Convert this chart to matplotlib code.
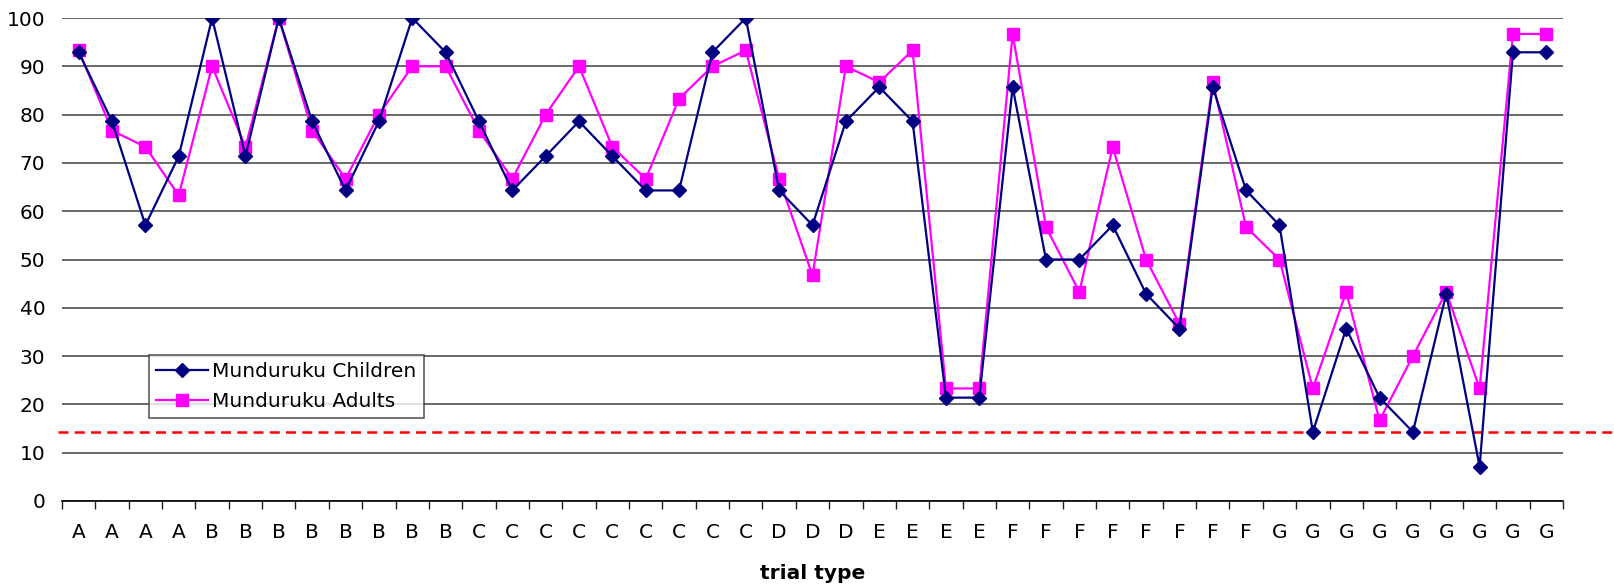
import matplotlib
matplotlib.use("Agg")
import matplotlib.pyplot as plt
from matplotlib.lines import Line2D

# Trial types along the x axis
categories = (["A"] * 4 + ["B"] * 8 + ["C"] * 9 + ["D"] * 3 + ["E"] * 4
              + ["F"] * 8 + ["G"] * 9)

# Percent correct per trial
children = [92.9, 78.6, 57.1, 71.4, 100, 71.4, 100, 78.6, 64.3, 78.6, 100, 92.9,
            78.6, 64.3, 71.4, 78.6, 71.4, 64.3, 64.3, 92.9, 100,
            64.3, 57.1, 78.6,
            85.7, 78.6, 21.4, 21.4,
            85.7, 50.0, 50.0, 57.1, 42.9, 35.7, 85.7, 64.3,
            57.1, 14.3, 35.7, 21.4, 14.3, 42.9, 7.1, 92.9, 92.9]
adults = [93.3, 76.7, 73.3, 63.3, 90.0, 73.3, 100, 76.7, 66.7, 80.0, 90.0, 90.0,
          76.7, 66.7, 80.0, 90.0, 73.3, 66.7, 83.3, 90.0, 93.3,
          66.7, 46.7, 90.0,
          86.7, 93.3, 23.3, 23.3,
          96.7, 56.7, 43.3, 73.3, 50.0, 36.7, 86.7, 56.7,
          50.0, 23.3, 43.3, 16.7, 30.0, 43.3, 23.3, 96.7, 96.7]
chance_level = 14.3
y_ticks = [0, 10, 20, 30, 40, 50, 60, 70, 80, 90, 100]

plt.rcParams["font.family"] = ["DejaVu Sans"]

fig = plt.figure(figsize=(16.15, 5.85), dpi=100)
ax = fig.add_axes([62 / 1615, 1 - 501 / 585, (1563 - 62) / 1615, (501 - 18) / 585])

n = len(categories)
x = [i + 0.5 for i in range(n)]

ax.plot(x, children, color="#000080", lw=1.6, marker="D", ms=6.8,
        label="Munduruku Children", zorder=4)
ax.plot(x, adults, color="#FF00FF", lw=1.6, marker="s", ms=9,
        label="Munduruku Adults", zorder=3)

ax.set_xlim(0, n)
ax.set_ylim(0, 100)
ax.set_yticks(y_ticks)
ax.yaxis.grid(True, color="#404040", lw=1.1)
ax.set_axisbelow(True)
ax.tick_params(axis="y", length=0, labelsize=14.5, pad=12)

ax.set_xticks(range(n + 1))
ax.set_xticklabels([])
ax.set_xticks(x, minor=True)
ax.set_xticklabels(categories, minor=True, fontsize=14.5)
ax.tick_params(axis="x", which="major", length=6, width=1, direction="out",
               color="#222222")
ax.tick_params(axis="x", which="minor", length=0, pad=16)

for side in ("left", "right", "top"):
    ax.spines[side].set_visible(False)
ax.spines["bottom"].set_linewidth(1.2)

ax.set_xlabel("trial type", fontsize=14.5, fontweight="bold", labelpad=16)

# Chance level, drawn across to the right edge of the figure
ax.add_line(Line2D([-0.12, n + 1.6], [chance_level, chance_level],
                   color="red", lw=1.8, ls=(0, (4, 2.5)), clip_on=False, zorder=2))

leg = ax.legend(loc="upper left", bbox_to_anchor=(0.058, 0.303), fontsize=14.5,
                frameon=True, fancybox=False, edgecolor="#333333",
                borderpad=0.35, handlelength=2.6, handletextpad=0.2,
                labelspacing=0.55, borderaxespad=0)
leg.get_frame().set_linewidth(1.2)
for h in leg.legend_handles:
    h.set_linewidth(1.6)
leg.legend_handles[0].set_markersize(6.8)
leg.legend_handles[1].set_markersize(8.5)

fig.savefig("out.png", dpi=100, facecolor="white")
